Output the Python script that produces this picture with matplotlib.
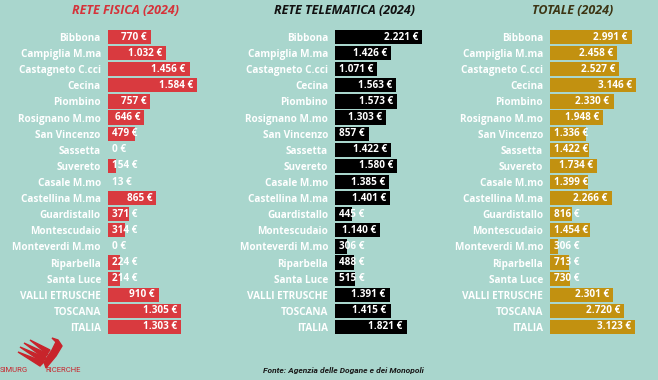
import matplotlib
matplotlib.use("Agg")
import matplotlib.pyplot as plt
from matplotlib.patches import Polygon
from matplotlib.transforms import offset_copy

comuni = ['Bibbona', 'Campiglia M.ma', 'Castagneto C.cci', 'Cecina', 'Piombino',
          'Rosignano M.mo', 'San Vincenzo', 'Sassetta', 'Suvereto', 'Casale M.mo',
          'Castellina M.ma', 'Guardistallo', 'Montescudaio', 'Monteverdi M.mo',
          'Riparbella', 'Santa Luce', 'VALLI ETRUSCHE', 'TOSCANA', 'ITALIA']

rete_fisica = [770, 1032, 1456, 1584, 757, 646, 479, 0, 154, 13,
               865, 371, 314, 0, 224, 214, 910, 1305, 1303]
rete_telematica = [2221, 1426, 1071, 1563, 1573, 1303, 857, 1422, 1580, 1385,
                   1401, 445, 1140, 306, 488, 515, 1391, 1415, 1821]
totale = [2991, 2458, 2527, 3146, 2330, 1948, 1336, 1422, 1734, 1399,
          2266, 816, 1454, 306, 713, 730, 2301, 2720, 3123]

BG = '#a9d6cd'
FONT = 'Open Sans'
LOGO_RED = '#c8242b'
W, H = 658, 380


def eur(v):
    return f'{v:,}'.replace(',', '.') + ' €'


def px(x, y):
    # pixel (from top-left) -> figure fraction
    return x / W, 1 - y / H


def panel(fig, x0, xmax, values, color, title, title_color, title_x):
    # axes placed in pixel coordinates, 100 px wide
    top, bottom = 29, 335
    ax = fig.add_axes([x0 / W, (H - bottom) / H, 100 / W, (bottom - top) / H])
    ax.set_facecolor('none')
    y = list(range(len(comuni)))
    ax.barh(y, values, height=0.88, color=color)
    ax.set_xlim(0, xmax)
    ax.set_ylim(len(comuni) - 0.5, -0.5)
    ax.set_yticks(y)
    ax.set_yticklabels(comuni, color='white', fontsize=7.2, fontweight='bold', family=FONT)
    ax.tick_params(axis='y', length=0, pad=5)
    ax.set_xticks([])
    for s in ax.spines.values():
        s.set_visible(False)

    fig.canvas.draw()
    r = fig.canvas.get_renderer()
    for yi, v in zip(y, values):
        end_px = ax.transData.transform((v, 0))[0]
        start_px = ax.transData.transform((0, 0))[0]
        t = ax.text(0, yi, eur(v), color='white', fontsize=7.2, fontweight='bold',
                    family=FONT, va='center', ha='left',
                    transform=offset_copy(ax.transData, fig, x=4, y=0, units='dots'))
        w = t.get_window_extent(r).width
        if start_px + 4 + w < end_px - 4:
            t.set_ha('right')
            t.set_x(v)
            t.set_transform(offset_copy(ax.transData, fig, x=-4, y=0, units='dots'))

    fig.text(*px(title_x, 11), title, color=title_color, fontsize=9,
             fontweight='bold', fontstyle='italic', family=FONT, ha='center', va='center')
    return ax


fig = plt.figure(figsize=(W / 100, H / 100), dpi=100)
fig.patch.set_facecolor(BG)

panel(fig, 107.7, 100 / 0.0563, rete_fisica, '#d93a3f', 'RETE FISICA (2024)', '#d5333a', 126)
panel(fig, 335, 100 / 0.0393, rete_telematica, '#000000', 'RETE TELEMATICA (2024)', '#111111', 344)
panel(fig, 550, 100 / 0.0273, totale, '#c29110', 'TOTALE (2024)', '#3d3514', 573)

fig.text(*px(343, 371), 'Fonte: Agenzia delle Dogane e dei Monopoli',
         family='Roboto', fontsize=6, fontweight='bold', fontstyle='italic',
         color='#1a1a1a', ha='center', va='center')

# logo: stylised bird + name
wings = [
    [(18, 352), (40, 366), (44, 362)],
    [(20, 347), (42, 362), (46, 358)],
    [(24, 343), (44, 358), (48, 354)],
    [(30, 340), (47, 354), (50, 350)],
]
for w in wings:
    fig.patches.append(Polygon([px(*p) for p in w], closed=True, color=LOGO_RED,
                               transform=fig.transFigure, figure=fig))
body = [(44, 362), (52, 350), (56, 342), (52, 338), (58, 340), (62, 346), (56, 356), (46, 368)]
fig.patches.append(Polygon([px(*p) for p in body], closed=True, color=LOGO_RED,
                           transform=fig.transFigure, figure=fig))
fig.text(*px(0, 370), 'SIMURG', color=LOGO_RED, fontsize=5.5, family='Roboto',
         ha='left', va='center')
fig.text(*px(45, 370), 'RICERCHE', color=LOGO_RED, fontsize=5.5, family='Roboto',
         ha='left', va='center')

fig.savefig('out.png', dpi=100, facecolor=BG)
